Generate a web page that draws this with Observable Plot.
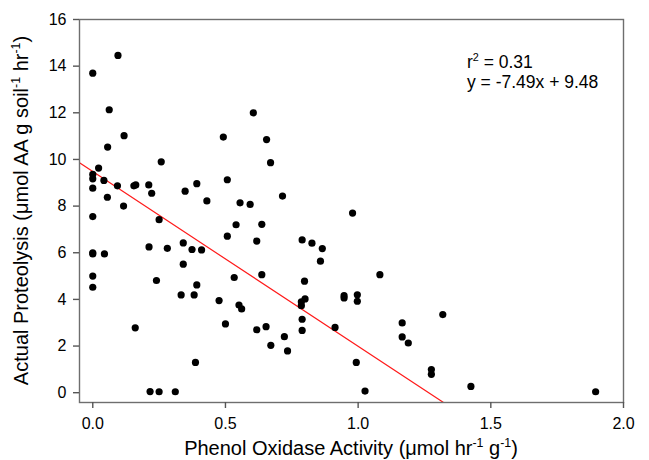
<!DOCTYPE html>
<html><head><meta charset="utf-8">
<script src="https://cdn.jsdelivr.net/npm/d3@7"></script>
<script src="https://cdn.jsdelivr.net/npm/@observablehq/plot@0.6"></script>
<style>body{margin:0;background:#fff;font-family:"Liberation Sans",Arial,sans-serif}</style>
</head><body><div id="chart"></div>
<script>
const xVals = [0.000,0.095,0.062,0.118,0.056,0.258,0.022,0.000,0.000,0.042,
  0.000,0.093,0.155,0.162,0.211,0.222,0.055,0.348,0.392,0.430,
  0.492,0.507,0.605,0.655,0.670,0.715,0.000,0.116,0.250,0.555,
  0.593,0.540,0.507,0.618,0.637,0.212,0.281,0.341,0.374,0.410,
  0.000,0.000,0.044,0.341,0.000,0.000,0.240,0.533,0.637,0.392,
  0.333,0.382,0.476,0.551,0.561,0.500,0.618,0.160,0.387,0.216,
  0.250,0.311,0.979,0.789,0.826,0.865,0.858,1.082,0.798,0.947,
  0.947,0.997,0.997,0.800,0.786,0.786,0.789,0.913,0.653,0.789,
  0.722,0.671,0.734,1.166,1.166,1.189,0.993,1.026,1.276,1.276,
  1.319,1.425,1.895];
const yVals = [13.70,14.46,12.13,11.02,10.53,9.90,9.63,9.36,9.17,9.10,
  8.77,8.87,8.87,8.91,8.91,8.55,8.38,8.64,8.96,8.22,
  10.96,9.13,12.00,10.85,9.86,8.43,7.55,8.00,7.42,8.14,
  8.07,7.20,6.71,6.50,7.22,6.25,6.19,6.42,6.14,6.12,
  6.00,5.95,5.95,5.51,5.00,4.52,4.81,4.94,5.06,4.62,
  4.19,4.19,3.95,3.76,3.59,2.95,2.70,2.78,1.30,0.05,
  0.04,0.04,7.70,6.55,6.41,6.18,5.64,5.06,4.78,4.16,
  4.06,4.20,3.92,4.02,3.90,3.73,3.15,2.80,2.83,2.67,
  2.40,2.03,1.79,2.99,2.39,2.13,1.30,0.07,0.99,0.79,
  3.35,0.27,0.04];
const slope = -7.49, intercept = 9.48, r2 = "0.31";
const xTicks = [0, 0.5, 1, 1.5, 2];
const yTicks = [0, 2, 4, 6, 8, 10, 12, 14, 16];
const xDomain = [-0.05, 2];
const yDomain = [-0.42, 16];

const data = xVals.map((x, i) => ({x, y: yVals[i]}));
const lineData = xDomain.map(x => ({x, y: intercept + slope * x}));
const font = '"Liberation Sans", Arial, sans-serif';

const plot = Plot.plot({
  width: 649, height: 460,
  marginLeft: 79, marginRight: 26, marginTop: 19, marginBottom: 58,
  style: {fontFamily: font, fontSize: "16px", color: "#000", background: "#fff"},
  x: {domain: xDomain, label: null},
  y: {domain: yDomain, label: null},
  marks: [
    Plot.line(lineData, {x: "x", y: "y", stroke: "#ff1a1a", strokeWidth: 1.2, clip: true}),
    Plot.dot(data, {x: "x", y: "y", r: 3.6, fill: "black"}),
    Plot.frame({stroke: "#6e6e6e", strokeWidth: 1.4}),
    Plot.axisX({ticks: xTicks, tickFormat: d3.format(".1f"), tickSize: 6, tickPadding: 9, stroke: "#555", strokeWidth: 1.4, fontSize: 16, label: null}),
    Plot.axisY({ticks: yTicks, tickSize: 6, tickPadding: 7, stroke: "#555", strokeWidth: 1.4, fontSize: 16, label: null})
  ]
});
document.getElementById("chart").appendChild(plot);

const svg = d3.select(plot);
const xs = plot.scale("x"), ys = plot.scale("y");

function richText(g, parts, size) {
  let prevSup = false;
  for (const [t, sup] of parts) {
    const ts = g.append("tspan").text(t);
    if (sup) ts.attr("font-size", size * 0.62);
    if (sup && !prevSup) ts.attr("dy", -size * 0.42);
    else if (!sup && prevSup) ts.attr("dy", size * 0.42);
    prevSup = sup;
  }
}

// X axis title
const xt = svg.append("text")
  .attr("x", (79 + 623) / 2).attr("y", 455)
  .attr("text-anchor", "middle").attr("font-family", font).attr("font-size", 20).attr("fill", "#000");
richText(xt, [["Phenol Oxidase Activity (\u03bcmol hr", false], ["-1", true], [" g", false], ["-1", true], [")", false]], 20);

// Y axis title
const yt = svg.append("text")
  .attr("transform", `translate(28,${(19 + 402) / 2}) rotate(-90)`)
  .attr("text-anchor", "middle").attr("font-family", font).attr("font-size", 20).attr("fill", "#000");
richText(yt, [["Actual Proteolysis (\u03bcmol AA g soil", false], ["-1", true], [" hr", false], ["-1", true], [")", false]], 20);

// Annotation
const ax = xs.apply(1.412);
const a1 = svg.append("text").attr("x", ax).attr("y", 68)
  .attr("text-anchor", "start").attr("font-family", font).attr("font-size", 17.5).attr("fill", "#000");
richText(a1, [["r", false], ["2", true], [" = " + r2, false]], 17.5);
svg.append("text").attr("x", ax).attr("y", 88)
  .attr("text-anchor", "start").attr("font-family", font).attr("font-size", 17.5).attr("fill", "#000")
  .text(`y = ${slope}x + ${intercept}`);
</script>
</body></html>
